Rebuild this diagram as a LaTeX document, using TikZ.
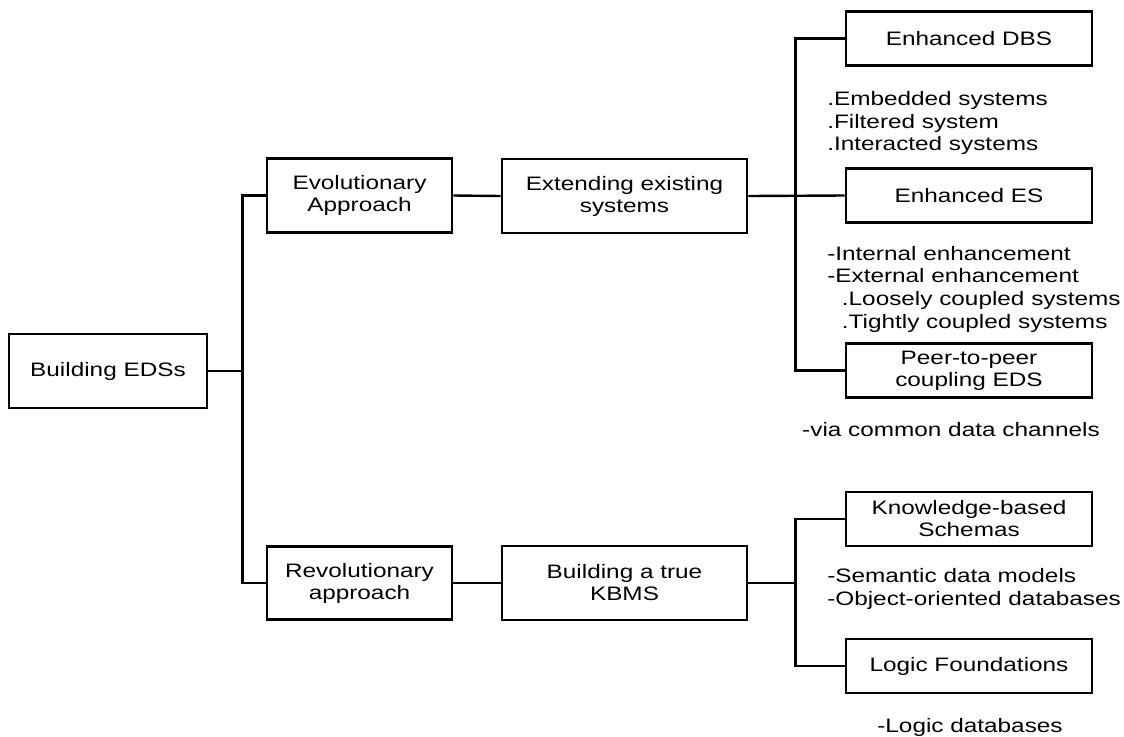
\documentclass[tikz,border=0pt]{standalone}
\usepackage{fontspec}
\setmainfont[FakeStretch=1.25]{Liberation Sans}
\usetikzlibrary{positioning}
\tikzset{
  boxnode/.style = {rectangle, draw=black, line width=2.2pt, align=center,
    inner sep=0pt, font=\fontsize{14.6}{16.5}\selectfont},
  box_root/.style = {boxnode, minimum width=148.5pt, minimum height=55.5pt},% racine
  box_mid/.style = {boxnode, minimum width=138.75pt, minimum height=55pt},% approche
  box_sys/.style = {boxnode, minimum width=183.75pt, minimum height=55.5pt},% systeme
  box_leaf/.style = {boxnode, minimum width=184.5pt, minimum height=40.5pt},% feuille
  notes/.style = {align=left, inner sep=0pt, anchor=west,
    font=\fontsize{14.6}{17}\selectfont},
  link/.style = {line width=1.8pt}
}

\begin{document}
\begin{tikzpicture}[x=0.75pt,y=-0.75pt]
\fill[white] (0,0) rectangle (1124,736);
\useasboundingbox (0,0) rectangle (1124,736);
% arbre
\node [box_root] (root) at (108,371) {Building EDSs};
\node [box_mid] (evo) at (359.5,195.5) {Evolutionary\\Approach};
\node [box_mid] (rev) at (359.5,583) {Revolutionary\\approach};
\node [box_sys] (ext) at (624.5,196) {Extending existing\\systems};
\node [box_sys] (kbms) at (624.5,583) {Building a true\\KBMS};
\node [box_leaf] (dbs) at (969,38.5) {Enhanced DBS};
\node [box_leaf] (es) at (969,195.5) {Enhanced ES};
\node [box_leaf] (peer) at (969,370.5) {Peer-to-peer\\coupling EDS};
\node [box_leaf] (kbs) at (969,519) {Knowledge-based\\Schemas};
\node [box_leaf] (logic) at (969,666) {Logic Foundations};
% notes
\node [notes] (dbsnote) at (827,123) {.Embedded systems\\.Filtered system\\.Interacted systems};
\node [notes] (esnote) at (827,289) {-Internal enhancement\\-External enhancement\\\hspace*{11pt}.Loosely coupled systems\\\hspace*{11pt}.Tightly coupled systems};
\node [notes, anchor=center] (peernote) at (951,430) {-via common data channels};
\node [notes] (kbsnote) at (827,589) {-Semantic data models\\-Object-oriented databases};
\node [notes, anchor=center] (logicnote) at (970,727) {-Logic databases};
% liens
\draw [link] (evo.west) -- ++(-23,0) coordinate (t1) |- (rev.west);
\draw [link] (root.east) -- (root.east -| t1);
\draw [link] (evo.east) -- (ext.west);
\draw [link] (rev.east) -- (kbms.west);
\draw [link] (dbs.west) -- ++(-49,0) coordinate (t2) |- (peer.west);
\draw [link] (es.west) -- (ext.east);
\draw [link] (kbs.west) -- ++(-49,0) coordinate (t3) |- (logic.west);
\draw [link] (kbms.east) -- (kbms.east -| t3);
\end{tikzpicture}
\end{document}
